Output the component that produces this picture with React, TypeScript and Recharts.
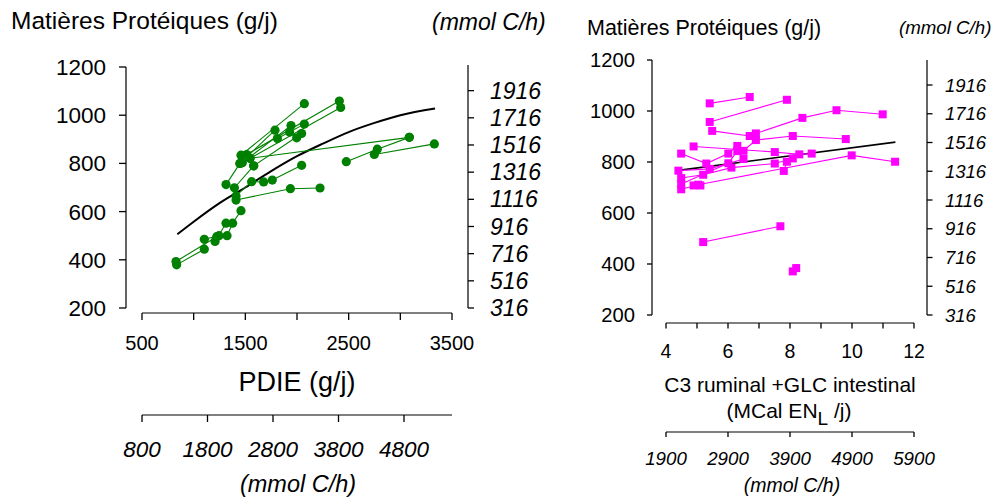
import React from "react";
import { ComposedChart, Scatter, Line, XAxis, YAxis } from "recharts";

const FONT = '"Liberation Sans", Arial, Helvetica, sans-serif';
const GREEN = "#008000";
const MAGENTA = "#ff00ff";

// left panel: PDIE (g/j) -> Matières Protéiques (g/j), one polyline per study
const pdieGroups: Array<Array<[number, number]>> = [
  [[829, 393], [1223, 496]],
  [[835, 379], [1103, 444]],
  [[1103, 485], [1245, 500]],
  [[1207, 476], [1313, 552]],
  [[1323, 500], [1377, 552], [1458, 604]],
  [[1313, 712], [1448, 800]],
  [[1410, 648], [1936, 695], [2223, 698]],
  [[1410, 665], [1561, 724], [1677, 723], [1761, 731], [2045, 792]],
  [[1394, 699], [1581, 790]],
  [[1458, 834], [2071, 1048]],
  [[1513, 837], [2410, 1059]],
  [[1545, 821], [2423, 1032]],
  [[1545, 821], [3087, 908]],
  [[3087, 908], [2777, 859], [2477, 807]],
  [[2748, 837], [3329, 881]],
  [[1448, 800], [1787, 938]],
  [[1471, 803], [1942, 957]],
  [[1581, 790], [2045, 924]],
  [[1810, 903], [2071, 963]],
  [[1929, 930], [1997, 906]],
];

// fitted curve
const pdieCurve: Array<[number, number]> = [
  [842, 506], [1000, 558], [1250, 635], [1500, 700], [1750, 768], [2000, 830],
  [2250, 882], [2500, 930], [2750, 968], [3000, 1000], [3336, 1028],
];

// right panel: C3 ruminal + GLC intestinal (Mcal EN_L/j) -> Matières Protéiques
const enGroups: Array<Array<[number, number]>> = [
  [[5.41, 1030], [6.7, 1055]],
  [[5.41, 957], [7.9, 1044]],
  [[5.49, 922], [6.7, 902]],
  [[6.9, 912], [8.4, 973], [9.5, 1003], [10.99, 987]],
  [[6.5, 844], [6.9, 886], [8.09, 902], [9.8, 890]],
  [[4.89, 861], [7.51, 839], [8.3, 830], [8.7, 833]],
  [[4.49, 833], [5.3, 794], [6.01, 833], [6.3, 863]],
  [[4.49, 737], [5.2, 750], [6.11, 778], [7.51, 794], [8.09, 814]],
  [[4.49, 714], [6.01, 795], [6.3, 843]],
  [[4.49, 693], [5.04, 711], [9.99, 826], [11.39, 801]],
  [[4.4, 766], [5.41, 773], [6.5, 812]],
  [[4.89, 708], [5.11, 708]],
  [[7.8, 765], [7.9, 801]],
  [[5.2, 486], [7.69, 548]],
  [[8.09, 371], [8.2, 384]],
];

const enLine: Array<[number, number]> = [[4.4, 767], [11.4, 878]];

const mpTicks = [200, 400, 600, 800, 1000, 1200];
const mmolYTicks = [316, 516, 716, 916, 1116, 1316, 1516, 1716, 1916];
const pdieTicks = [500, 1000, 1500, 2000, 2500, 3000, 3500];
const pdieLabels = [500, 1500, 2500, 3500];
const pdieMmolTicks = [800, 1800, 2800, 3800, 4800];
const enTicks = [4, 5, 6, 7, 8, 9, 10, 11, 12];
const enLabels = [4, 6, 8, 10, 12];
const enMmolTicks = [1900, 2900, 3900, 4900, 5900];

const toPts = (g: Array<[number, number]>) => g.map(([x, y]) => ({ x, y }));
// an axis with no series gets no ticks, so bare axes carry an invisible series
const anchor = (ticks: number[], y: number) => ticks.map((x) => ({ x, y }));

const tickStyle = (size: number, italic = false) => ({
  fill: "#000",
  fontSize: size,
  fontFamily: FONT,
  fontStyle: italic ? "italic" : "normal",
});

const line = (dash: string) => ({ stroke: "#000", strokeWidth: 1.2, strokeDasharray: dash });
const tl = { stroke: "#000", strokeWidth: 1.3, strokeDasharray: "none" };

// only some ticks get a label (R drops the ones that would collide)
const sparseTick = (labels: number[], size: number) => (p: any) =>
  labels.includes(p.payload.value) ? (
    <text x={p.x} y={p.y} dy="0.71em" textAnchor="middle" {...tickStyle(size)}>
      {p.payload.value}
    </text>
  ) : (
    <g />
  );

function Txt({ x, base, size, italic, center, children }: any) {
  return (
    <div
      style={{
        position: "absolute",
        left: x,
        top: base - 0.8465 * size,
        fontSize: size,
        lineHeight: 1,
        fontFamily: FONT,
        fontStyle: italic ? "italic" : "normal",
        whiteSpace: "nowrap",
        color: "#000",
        transform: center ? "translateX(-50%)" : undefined,
      }}
    >
      {children}
    </div>
  );
}

const dot = (p: any) => <circle cx={p.cx} cy={p.cy} r={4.6} fill={GREEN} />;
const square = (p: any) => <rect x={p.cx - 4} y={p.cy - 4} width={8} height={8} fill={MAGENTA} />;
const none = () => <g />;

// main x axis drawn in its own thin chart, laid over the panel just under the plot
function BottomAxis(props: {
  width: number;
  left: number;
  right: number;
  domain: [number, number];
  ticks: number[];
  labels: number[];
  pad: { left: number; right: number };
  tickSize: number;
  tickMargin: number;
  fontSize: number;
  dash: string;
}) {
  return (
    <ComposedChart width={props.width} height={120} margin={{ top: 0, right: props.right, bottom: 0, left: props.left }}>
      <XAxis
        dataKey="x"
        type="number"
        domain={props.domain}
        ticks={props.ticks}
        interval={0}
        padding={props.pad}
        height={100}
        tickSize={props.tickSize}
        tickMargin={props.tickMargin}
        tick={sparseTick(props.labels, props.fontSize)}
        axisLine={line(props.dash)}
        tickLine={tl}
      />
      <YAxis dataKey="y" type="number" domain={[0, 1]} width={0} hide />
      <Scatter data={anchor(props.ticks, 0.5)} shape={none} isAnimationActive={false} />
    </ComposedChart>
  );
}

function LeftPanel() {
  return (
    <ComposedChart width={560} height={504} margin={{ top: 62, right: 0, bottom: 0, left: 0 }}>
      <XAxis
        xAxisId="g"
        dataKey="x"
        type="number"
        domain={[500, 3500]}
        padding={{ left: 16, right: 16 }}
        height={102}
        tick={false}
        tickLine={false}
        axisLine={false}
      />
      <XAxis
        xAxisId="mmol"
        dataKey="x"
        type="number"
        domain={[800, 5533]}
        ticks={pdieMmolTicks}
        interval={0}
        padding={{ left: 16, right: 16 }}
        height={89}
        tickSize={7}
        tickMargin={19}
        tick={tickStyle(22.5, true)}
        axisLine={line("0 16 310 1000")}
        tickLine={tl}
      />
      <XAxis
        xAxisId="curve"
        dataKey="x"
        type="number"
        domain={[500, 3500]}
        padding={{ left: 16, right: 16 }}
        height={0}
        hide
      />
      <YAxis
        yAxisId="left"
        dataKey="y"
        type="number"
        domain={[200, 1200]}
        ticks={mpTicks}
        interval={0}
        width={126}
        padding={{ top: 5, bottom: 5 }}
        tickSize={7}
        tickMargin={13}
        tick={tickStyle(22.5)}
        axisLine={line("0 5 241 1000")}
        tickLine={tl}
      />
      <YAxis
        yAxisId="right"
        orientation="right"
        type="number"
        domain={[316, 2090]}
        ticks={mmolYTicks}
        interval={0}
        allowDataOverflow
        width={92}
        padding={{ top: 5, bottom: 5 }}
        tickSize={6}
        tickMargin={16}
        tick={{ ...tickStyle(23, true), textAnchor: "start" }}
        axisLine={line("0 3 243 1000")}
        tickLine={tl}
      />
      <Scatter xAxisId="mmol" yAxisId="left" data={anchor(pdieMmolTicks, 800)} shape={none} isAnimationActive={false} />
      {pdieGroups.map((g, i) => (
        <Scatter
          key={i}
          xAxisId="g"
          yAxisId="left"
          data={toPts(g)}
          line={{ stroke: GREEN, strokeWidth: 1.1 }}
          lineType="joint"
          shape={dot}
          isAnimationActive={false}
        />
      ))}
      <Line
        xAxisId="curve"
        yAxisId="left"
        data={toPts(pdieCurve)}
        dataKey="y"
        type="monotone"
        dot={false}
        stroke="#000"
        strokeWidth={2}
        isAnimationActive={false}
      />
    </ComposedChart>
  );
}

function RightPanel() {
  return (
    <ComposedChart width={439} height={504} margin={{ top: 55, right: 0, bottom: 0, left: 0 }}>
      <XAxis
        xAxisId="en"
        dataKey="x"
        type="number"
        domain={[4, 12]}
        padding={{ left: 14, right: 13 }}
        height={109}
        tick={false}
        tickLine={false}
        axisLine={false}
      />
      <XAxis
        xAxisId="mmol"
        dataKey="x"
        type="number"
        domain={[1900, 5900]}
        ticks={enMmolTicks}
        interval={0}
        padding={{ left: 14, right: 13 }}
        height={72}
        tickSize={5}
        tickMargin={15}
        tick={tickStyle(18.7, true)}
        axisLine={line("0 14 248 1000")}
        tickLine={tl}
      />
      <XAxis
        xAxisId="curve"
        dataKey="x"
        type="number"
        domain={[4, 12]}
        padding={{ left: 14, right: 13 }}
        height={0}
        hide
      />
      <YAxis
        yAxisId="left"
        dataKey="y"
        type="number"
        domain={[200, 1200]}
        ticks={mpTicks}
        interval={0}
        width={92}
        padding={{ top: 5, bottom: 8 }}
        tickSize={5}
        tickMargin={12}
        tick={tickStyle(20.2)}
        axisLine={line("0 5 255 1000")}
        tickLine={tl}
      />
      <YAxis
        yAxisId="right"
        orientation="right"
        type="number"
        domain={[316, 2090]}
        ticks={mmolYTicks}
        interval={0}
        allowDataOverflow
        width={72}
        padding={{ top: 5, bottom: 8 }}
        tickSize={5.5}
        tickMargin={12.5}
        tick={{ ...tickStyle(18.5, true), textAnchor: "start" }}
        axisLine={line("0 5 255 1000")}
        tickLine={tl}
      />
      <Scatter xAxisId="mmol" yAxisId="left" data={anchor(enMmolTicks, 800)} shape={none} isAnimationActive={false} />
      {enGroups.map((g, i) => (
        <Scatter
          key={i}
          xAxisId="en"
          yAxisId="left"
          data={toPts(g)}
          line={{ stroke: MAGENTA, strokeWidth: 1.1 }}
          lineType="joint"
          shape={square}
          isAnimationActive={false}
        />
      ))}
      <Line
        xAxisId="curve"
        yAxisId="left"
        data={toPts(enLine)}
        dataKey="y"
        type="linear"
        dot={false}
        stroke="#000"
        strokeWidth={1.6}
        isAnimationActive={false}
      />
    </ComposedChart>
  );
}

export default function App() {
  return (
    <div style={{ position: "absolute", left: 0, top: 0, width: 999, height: 504, background: "#fff" }}>
      <div style={{ position: "absolute", left: 0, top: 0 }}>
        <LeftPanel />
      </div>
      <div style={{ position: "absolute", left: 560, top: 0 }}>
        <RightPanel />
      </div>
      <div style={{ position: "absolute", left: 0, top: 293 }}>
        <BottomAxis
          width={560}
          left={126}
          right={92}
          domain={[500, 3500]}
          ticks={pdieTicks}
          labels={pdieLabels}
          pad={{ left: 16, right: 16 }}
          tickSize={7}
          tickMargin={16}
          fontSize={20}
          dash="0 16 310 1000"
        />
      </div>
      <div style={{ position: "absolute", left: 560, top: 303 }}>
        <BottomAxis
          width={439}
          left={92}
          right={72}
          domain={[4, 12]}
          ticks={enTicks}
          labels={enLabels}
          pad={{ left: 14, right: 13 }}
          tickSize={5.5}
          tickMargin={16}
          fontSize={19.5}
          dash="0 14 248 1000"
        />
      </div>
      <Txt x={11} base={30} size={24.5}>Matières Protéiques (g/j)</Txt>
      <Txt x={432} base={30} size={23} italic>(mmol C/h)</Txt>
      <Txt x={587} base={36} size={21.5}>Matières Protéiques (g/j)</Txt>
      <Txt x={899} base={35} size={18.7} italic>(mmol C/h)</Txt>
      <Txt x={297} base={392} size={27} center>PDIE (g/j)</Txt>
      <Txt x={298} base={493} size={23.5} italic center>(mmol C/h)</Txt>
      <Txt x={790} base={392} size={21} center>C3 ruminal +GLC intestinal</Txt>
      <Txt x={789} base={418} size={21} center>
        (MCal EN<span style={{ fontSize: 19, position: "relative", top: 7 }}>L</span> /j)
      </Txt>
      <Txt x={792} base={493} size={19.5} italic center>(mmol C/h)</Txt>
    </div>
  );
}
